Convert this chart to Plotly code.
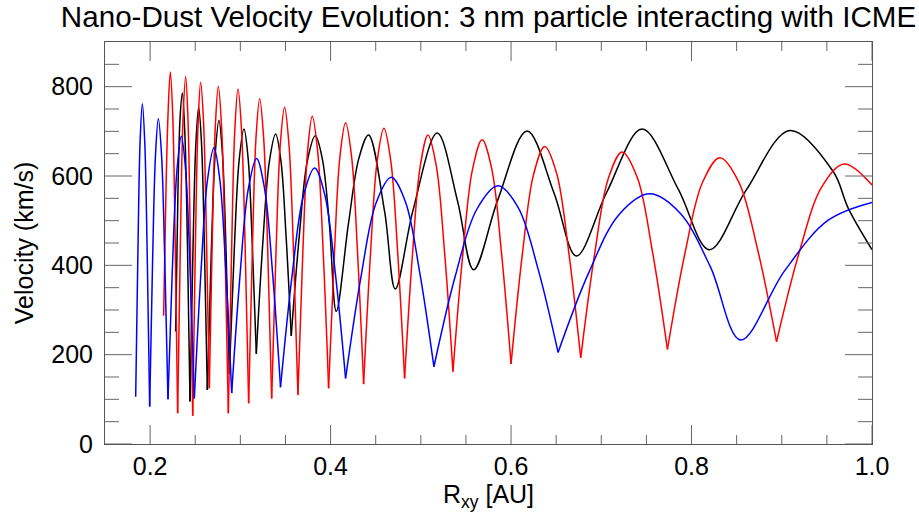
import plotly.graph_objects as go

# ---- data (R_xy in AU, velocity in km/s) ----
black_x = [0.2283, 0.2308, 0.2332, 0.2357, 0.2385, 0.2414, 0.2442,
           0.2474, 0.2506, 0.2538, 0.2570, 0.2602, 0.2634,
           0.2677, 0.2720, 0.2763, 0.2801, 0.2840, 0.2878,
           0.2932, 0.2986, 0.3040, 0.3086, 0.3131, 0.3177,
           0.3248, 0.3320, 0.3391, 0.3449, 0.3506, 0.3564,
           0.3653, 0.3741, 0.3830, 0.3908, 0.3986, 0.4063,
           0.4199, 0.4314, 0.4421, 0.4599, 0.4717,
           0.4912, 0.5182, 0.5408, 0.5585,
           0.5852, 0.6177, 0.6478, 0.6724,
           0.7059, 0.7452, 0.7854, 0.8196,
           0.8607, 0.9090, 0.9570, 0.9736, 1.0000]
black_y = [252, 560, 730, 786, 694, 441, 95,
           425, 668, 754, 672, 438, 121,
           423, 646, 725, 651, 442, 158,
           432, 634, 705, 640, 454, 202,
           448, 630, 694, 635, 468, 242,
           466, 632, 690, 639, 494, 297,
           495, 640, 692, 520, 347,
           522, 696, 543, 390,
           546, 701, 561, 421,
           563, 705, 570, 435,
           569, 702, 610, 528, 435]

red_x = [0.2150, 0.2175, 0.2199, 0.2224, 0.2251, 0.2278, 0.2305,
         0.2335, 0.2364, 0.2394, 0.2420, 0.2446, 0.2472,
         0.2501, 0.2531, 0.2560, 0.2592, 0.2624, 0.2656,
         0.2689, 0.2723, 0.2756, 0.2793, 0.2830, 0.2867,
         0.2903, 0.2938, 0.2974, 0.3013, 0.3053, 0.3092,
         0.3133, 0.3173, 0.3214, 0.3258, 0.3303, 0.3347,
         0.3395, 0.3442, 0.3490, 0.3539, 0.3589, 0.3638,
         0.3691, 0.3744, 0.3797, 0.3857, 0.3918, 0.3978,
         0.4041, 0.4103, 0.4166, 0.4233, 0.4299, 0.4366,
         0.4441, 0.4516, 0.4591, 0.4667, 0.4744, 0.4820,
         0.4906, 0.4993, 0.5079, 0.5171, 0.5264, 0.5356,
         0.5464, 0.5571, 0.5679, 0.5786, 0.5893, 0.6000,
         0.6124, 0.6249, 0.6373, 0.6506, 0.6639, 0.6772,
         0.6925, 0.7077, 0.7230, 0.7398, 0.7565, 0.7733,
         0.7927, 0.8120, 0.8314, 0.8523, 0.8733, 0.8942,
         0.9192, 0.9442, 0.9692, 1.0000]
red_y = [287, 560, 740, 833, 734, 451, 69,
         446, 725, 823, 724, 443, 63,
         437, 713, 810, 721, 468, 125,
         463, 713, 801, 706, 435, 69,
         432, 701, 795, 703, 443, 91,
         432, 684, 773, 686, 438, 102,
         428, 669, 754, 670, 432, 110,
         422, 653, 734, 655, 430, 125,
         422, 642, 719, 643, 427, 134,
         421, 633, 707, 634, 427, 147,
         420, 621, 692, 623, 427, 162,
         422, 613, 681, 616, 430, 179,
         423, 603, 666, 605, 430, 193,
         424, 594, 654, 597, 433, 212,
         427, 585, 641, 587, 435, 229,
         428, 575, 627, 580]

blue_x = [0.1840, 0.1865, 0.1889, 0.1914, 0.1941, 0.1968, 0.1995,
          0.2027, 0.2059, 0.2091, 0.2127, 0.2162, 0.2198,
          0.2247, 0.2297, 0.2346, 0.2394, 0.2442, 0.2490,
          0.2563, 0.2635, 0.2708, 0.2773, 0.2839, 0.2904,
          0.2996, 0.3088, 0.3180, 0.3268, 0.3357, 0.3445,
          0.3571, 0.3697, 0.3823, 0.3937, 0.4052, 0.4166,
          0.4335, 0.4503, 0.4672, 0.4830, 0.4987, 0.5145,
          0.5382, 0.5619, 0.5856, 0.6078, 0.6299, 0.6521,
          0.6860, 0.7198, 0.7537, 0.7872, 0.8208, 0.8543,
          0.9029, 0.9514, 1.0000]
blue_y = [106, 434, 677, 762, 674, 423, 84,
          406, 644, 728, 646, 414, 100,
          395, 612, 689, 613, 396, 102,
          383, 590, 663, 591, 389, 114,
          377, 571, 639, 572, 383, 127,
          373, 554, 618, 557, 383, 147,
          372, 539, 597, 542, 385, 173,
          376, 525, 578, 530, 392, 205,
          383, 514, 560, 517, 397, 233,
          387, 501, 541]

# tick values
x_major = [0.2, 0.4, 0.6, 0.8, 1.0]
x_major_labels = ["0.2", "0.4", "0.6", "0.8", "1.0"]
x_minor = [0.25, 0.3, 0.35, 0.45, 0.5, 0.55, 0.65, 0.7, 0.75, 0.85, 0.9, 0.95]
y_major = [0, 200, 400, 600, 800]
y_major_labels = ["0", "200", "400", "600", "800"]
y_minor = [50, 100, 150, 250, 300, 350, 450, 500, 550, 650, 700, 750, 850]

X_RANGE = [0.15, 1.0]
Y_RANGE = [0, 900]

# minima at or below these speeds are sharp cusps in the reference
black_cusp_max = 260
red_cusp_max = 1000
blue_cusp_max = 220

FONT = "Liberation Sans, Arial, Helvetica, sans-serif"
AXIS_GREY = "#555555"
TICK_GREY = "#666666"

W, H = 919, 512
ML, MR, MT, MB = 105, 47, 42, 68
PLOT_W = W - ML - MR
PLOT_H = H - MT - MB


def split_at_cusps(xs, ys, cusp_max):
    """Break the smoothed line at sharp minima so that each arc keeps its cusp."""
    px, py = [], []
    n = len(xs)
    for i in range(n):
        px.append(xs[i])
        py.append(ys[i])
        if 0 < i < n - 1 and ys[i] < ys[i - 1] and ys[i] < ys[i + 1] and ys[i] <= cusp_max:
            px += [None, xs[i]]
            py += [None, ys[i]]
    return px, py


fig = go.Figure()
for xs, ys, cm, col in [(black_x, black_y, black_cusp_max, "black"),
                        (red_x, red_y, red_cusp_max, "#ff0000"),
                        (blue_x, blue_y, blue_cusp_max, "#0000ff")]:
    sx, sy = split_at_cusps(xs, ys, cm)
    fig.add_trace(go.Scatter(x=sx, y=sy, mode="lines", connectgaps=False,
                             line=dict(color=col, width=1.5, shape="spline", smoothing=1.0),
                             showlegend=False, hoverinfo="skip"))

# inward tick marks on all four sides, built from the tick value lists
ux = (X_RANGE[1] - X_RANGE[0]) / PLOT_W   # data units per pixel along x
uy = (Y_RANGE[1] - Y_RANGE[0]) / PLOT_H   # data units per pixel along y
tx, ty = [], []
for vals, length in [(x_major, 19), (x_minor, 9)]:
    for v in vals:
        tx += [v, v, None, v, v, None]
        ty += [Y_RANGE[0], Y_RANGE[0] + length * uy, None,
               Y_RANGE[1], Y_RANGE[1] - length * uy, None]
for vals, length in [(y_major, 27), (y_minor, 14)]:
    for v in vals:
        tx += [X_RANGE[0], X_RANGE[0] + length * ux, None,
               X_RANGE[1], X_RANGE[1] - length * ux, None]
        ty += [v, v, None, v, v, None]
fig.add_trace(go.Scatter(x=tx, y=ty, mode="lines", connectgaps=False,
                         line=dict(color=TICK_GREY, width=1),
                         showlegend=False, hoverinfo="skip", cliponaxis=False))

fig.update_layout(
    width=W, height=H,
    margin=dict(l=ML, r=MR, t=MT, b=MB, autoexpand=False),
    paper_bgcolor="white", plot_bgcolor="white",
    title=dict(text="Nano-Dust Velocity Evolution: 3 nm particle interacting with ICME",
               x=0.5, xref="paper", xanchor="center",
               y=1 - 17 / 512, yref="container", yanchor="middle",
               font=dict(family=FONT, size=29.6, color="black")),
    xaxis=dict(
        range=X_RANGE, tickmode="array", tickvals=x_major, ticktext=x_major_labels,
        showline=True, linecolor=AXIS_GREY, linewidth=1, mirror=True,
        ticks="", showgrid=False, zeroline=False,
        tickfont=dict(family=FONT, size=25, color="black"),
        title=dict(text="R<sub>xy</sub> [AU]", font=dict(family=FONT, size=25, color="black"),
                   standoff=9)),
    yaxis=dict(
        range=Y_RANGE, tickmode="array", tickvals=y_major, ticktext=y_major_labels,
        showline=True, linecolor=AXIS_GREY, linewidth=1, mirror=True,
        ticks="", ticklabelstandoff=6, showgrid=False, zeroline=False,
        tickfont=dict(family=FONT, size=25, color="black"),
        title=dict(text="Velocity (km/s)", font=dict(family=FONT, size=25, color="black"),
                   standoff=10)),
)

fig.write_html("out.html")
